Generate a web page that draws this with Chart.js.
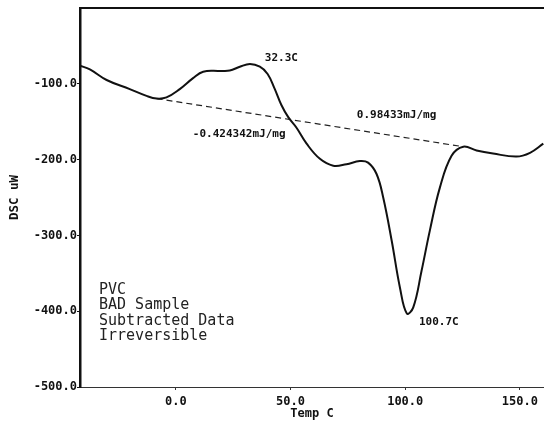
<!DOCTYPE html>
<html>
<head>
<meta charset="utf-8">
<title>PVC DSC</title>
<script src="https://cdn.jsdelivr.net/npm/chart.js@4/dist/chart.umd.min.js"></script>
<style>
    html, body { margin: 0; padding: 0; background: #fff; }
    #wrap { width: 544px; height: 421px; }
</style>
</head>
<body>
<div id="wrap"><canvas id="dscChart"></canvas></div>
<script>
// Curve data (Temp C, DSC uW)
const tempC = [-41.9, -37.5, -30.2, -20.1, -12.8, -8.4, -4.1, 1.7, 7.5, 11.9, 19.2, 23.5, 27.9, 32.3, 36.6, 40.0, 43.0, 46.0, 49.0, 52.6, 57.0, 62.8, 68.6, 74.4, 80.2, 83.8, 87.5, 90.4, 94.1, 97.7, 100.7, 103.5, 107.1, 110.7, 115.1, 120.2, 125.3, 131.1, 138.3, 148.5, 154.4, 160.2];
const dscUW = [-76, -81, -95, -107, -116, -119.5, -118, -107, -92.5, -84, -83, -82.5, -77.5, -74, -77.5, -87, -106, -128, -144, -158, -179, -199, -208, -206, -202, -204, -219, -250, -307, -369, -403, -395, -347, -294, -237, -195, -183, -188, -192, -196, -191, -179];

// Dashed baseline end points
const baseTemp = [-8.4, 125.3];
const baseDsc = [-119.5, -183];

// Tick labels
const xTicks = [0, 50, 100, 150];
const yTicks = [-500, -400, -300, -200, -100];

// Annotation texts and their anchor in data units
const noteText = ['32.3C', '0.98433mJ/mg', '-0.424342mJ/mg', '100.7C'];
const noteTemp = [38.8, 78.9, 7.4, 106];
const noteDsc = [-65.5, -141, -166, -414];

const infoLines = ['PVC', 'BAD Sample', 'Subtracted Data', 'Irreversible'];

const mono = "'DejaVu Sans Mono', 'Liberation Mono', monospace";

function toPoints(xs, ys) {
    return xs.map((x, i) => ({ x: x, y: ys[i] }));
}

// Frame line on top and the text notes
const notesPlugin = {
    id: 'notes',
    afterDraw(chart) {
        const ctx = chart.ctx;
        const area = chart.chartArea;
        const xs = chart.scales.x;
        const ys = chart.scales.y;
        ctx.save();

        // top border
        ctx.strokeStyle = '#111';
        ctx.lineWidth = 2;
        ctx.beginPath();
        ctx.moveTo(area.left, area.top);
        ctx.lineTo(area.right, area.top);
        ctx.stroke();

        ctx.fillStyle = '#111';
        ctx.textBaseline = 'middle';
        ctx.textAlign = 'left';
        ctx.font = 'bold 11px ' + mono;
        noteText.forEach((t, i) => {
            ctx.fillText(t, xs.getPixelForValue(noteTemp[i]), ys.getPixelForValue(noteDsc[i]));
        });

        // sample info block
        ctx.font = '15px ' + mono;
        ctx.fillStyle = '#222';
        infoLines.forEach((t, i) => {
            ctx.fillText(t, 99, 290 + i * 15.5);
        });
        ctx.restore();
    }
};

new Chart(document.getElementById('dscChart'), {
    type: 'line',
    data: {
        datasets: [
            {
                data: toPoints(tempC, dscUW),
                borderColor: '#111',
                borderWidth: 2,
                pointRadius: 0,
                fill: false,
                tension: 0.4
            },
            {
                data: toPoints(baseTemp, baseDsc),
                borderColor: '#222',
                borderWidth: 1.2,
                borderDash: [6, 4],
                pointRadius: 0,
                fill: false
            }
        ]
    },
    options: {
        responsive: true,
        maintainAspectRatio: false,
        animation: false,
        layout: { padding: { top: 8, right: 0, left: 0, bottom: 0 } },
        plugins: {
            legend: { display: false },
            tooltip: { enabled: false }
        },
        scales: {
            x: {
                type: 'linear',
                min: -41.8,
                max: 160.5,
                afterBuildTicks: (scale) => { scale.ticks = xTicks.map(v => ({ value: v })); },
                afterFit: (scale) => { scale.height = 34; },
                border: { color: '#333', width: 1 },
                grid: { drawOnChartArea: false, drawTicks: true, tickLength: 3, color: '#333' },
                ticks: {
                    color: '#111',
                    padding: 5,
                    maxRotation: 0,
                    font: { family: mono, size: 12, weight: 'bold' },
                    callback: (v) => Number(v).toFixed(1)
                },
                title: {
                    display: true,
                    text: 'Temp C',
                    color: '#111',
                    padding: { top: 0, bottom: 0 },
                    font: { family: mono, size: 12, weight: 'bold' }
                }
            },
            y: {
                min: -500,
                max: 0,
                afterBuildTicks: (scale) => { scale.ticks = yTicks.map(v => ({ value: v })); },
                afterFit: (scale) => { scale.width = 80; },
                border: { color: '#111', width: 2.5 },
                grid: { drawOnChartArea: false, drawTicks: true, tickLength: 3, color: '#111' },
                ticks: {
                    color: '#111',
                    padding: 0,
                    font: { family: mono, size: 12, weight: 'bold' },
                    callback: (v) => Number(v).toFixed(1)
                },
                title: {
                    display: true,
                    text: 'DSC uW',
                    color: '#111',
                    padding: { top: 7, bottom: 0 },
                    font: { family: mono, size: 12.5, weight: 'bold' }
                }
            }
        }
    },
    plugins: [notesPlugin]
});
</script>
</body>
</html>
